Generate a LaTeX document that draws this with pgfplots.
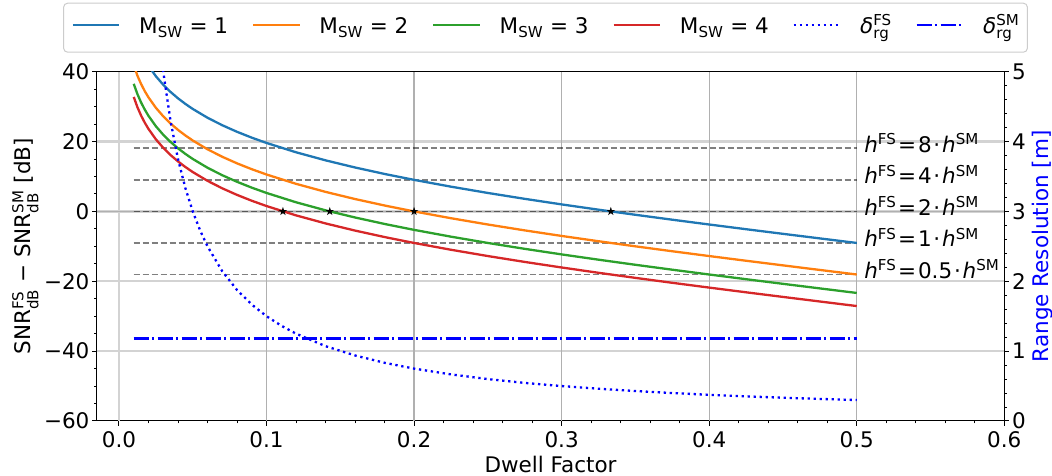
\documentclass[border=0pt]{standalone}
\usepackage{amsmath}
\usepackage{fontspec}
\setmainfont{DejaVu Sans}
\usepackage{pgfplots}
\usepackage{pgfplotstable}
\pgfplotsset{compat=1.18}
\definecolor{tabblue}{HTML}{1F77B4}
\definecolor{taborange}{HTML}{FF7F0E}
\definecolor{tabgreen}{HTML}{2CA02C}
\definecolor{tabred}{HTML}{D62728}
\definecolor{lgrid}{HTML}{D3D3D3}
\definecolor{dgrid}{HTML}{B0B0B0}
\definecolor{legframe}{HTML}{CCCCCC}
\pgfdeclareplotmark{fstar}{%
  \pgfpathmoveto{\pgfpointpolar{90}{\pgfplotmarksize}}%
  \pgfpathlineto{\pgfpointpolar{126}{0.382\pgfplotmarksize}}%
  \pgfpathlineto{\pgfpointpolar{162}{\pgfplotmarksize}}%
  \pgfpathlineto{\pgfpointpolar{198}{0.382\pgfplotmarksize}}%
  \pgfpathlineto{\pgfpointpolar{234}{\pgfplotmarksize}}%
  \pgfpathlineto{\pgfpointpolar{270}{0.382\pgfplotmarksize}}%
  \pgfpathlineto{\pgfpointpolar{306}{\pgfplotmarksize}}%
  \pgfpathlineto{\pgfpointpolar{342}{0.382\pgfplotmarksize}}%
  \pgfpathlineto{\pgfpointpolar{18}{\pgfplotmarksize}}%
  \pgfpathlineto{\pgfpointpolar{54}{0.382\pgfplotmarksize}}%
  \pgfpathclose
  \pgfusepathqfill}

\pgfplotstableread{
x      m1      m2      m3      m4
0.01   50.838  41.807  36.524  32.776
0.0125 47.898  38.867  33.584  29.836
0.015  45.489  36.458  31.175  27.427
0.0175 43.448  34.417  29.134  25.386
0.02   41.675  32.644  27.361  23.613
0.025  38.701  29.670  24.387  20.639
0.03   36.259  27.228  21.945  18.197
0.035  34.183  25.152  19.869  16.121
0.04   32.375  23.344  18.061  14.313
0.045  30.773  21.742  16.459  12.711
0.05   29.332  20.301  15.018  11.270
0.06   26.818  17.787  12.504   8.756
0.07   24.671  15.640  10.357   6.609
0.08   22.790  13.759   8.476   4.728
0.09   21.113  12.082   6.799   3.051
0.1    19.596  10.565   5.282   1.534
0.12   16.928   7.897   2.614  -1.134
0.14   14.620   5.589   0.306  -3.442
0.16   12.574   3.543  -1.740  -5.488
0.18   10.725   1.694  -3.589  -7.337
0.2     9.031   0.000  -5.283  -9.031
0.225   7.083  -1.948  -7.231 -10.979
0.25    5.283  -3.748  -9.031 -12.779
0.275   3.599  -5.432 -10.715 -14.463
0.3     2.008  -7.023 -12.306 -16.054
0.325   0.492  -8.539 -13.822 -17.570
0.35   -0.966  -9.997 -15.280 -19.028
0.375  -2.376 -11.407 -16.690 -20.438
0.4    -3.748 -12.779 -18.062 -21.810
0.425  -5.093 -14.124 -19.407 -23.155
0.45   -6.416 -15.447 -20.730 -24.478
0.475  -7.727 -16.758 -22.041 -25.789
0.5    -9.031 -18.062 -23.345 -27.093
}\snrtable

\pgfplotstableread{
x      d
0.0275 5.455
0.03   5.000
0.035  4.286
0.04   3.750
0.045  3.333
0.05   3.000
0.055  2.727
0.06   2.500
0.07   2.143
0.08   1.875
0.09   1.667
0.1    1.500
0.11   1.364
0.12   1.250
0.14   1.071
0.16   0.938
0.18   0.833
0.2    0.750
0.225  0.667
0.25   0.600
0.275  0.545
0.3    0.500
0.325  0.462
0.35   0.429
0.375  0.400
0.4    0.375
0.425  0.353
0.45   0.333
0.475  0.316
0.5    0.300
}\restable

\tikzset{
  dotsty/.style={blue, line width=2.3pt, dash pattern=on 2.3pt off 3.7pt},
  dashdotsty/.style={blue, line width=2.3pt, dash pattern=on 15pt off 3.2pt on 2.5pt off 3.3pt},
  hsty/.style={black, draw opacity=0.5, line width=1.7pt, dash pattern=on 6.3pt off 2.7pt}
}
\newcommand{\hann}[1]{\textit{h}$^{\text{FS}}$\hspace{1.8pt}=\hspace{1.8pt}#1\hspace{1.8pt}⋅\hspace{1.8pt}\textit{h}$^{\text{SM}}$}

\begin{document}
\fontsize{21.5pt}{25pt}\selectfont
\begin{tikzpicture}
\useasboundingbox (-96.7pt,-55pt) rectangle (955.3pt,421pt);
\begin{axis}[
  at={(0pt,0pt)}, anchor=south west,
  scale only axis, width=907.6pt, height=349.3pt,
  font=\fontsize{21.5pt}{25pt}\selectfont,
  xmin=-0.0151, xmax=0.6, ymin=-60, ymax=40,
  axis line style={line width=1pt},
  xtick={0,0.1,0.2,0.3,0.4,0.5,0.6},
  xticklabels={0.0,0.1,0.2,0.3,0.4,0.5,0.6},
  ytick={-60,-40,-20,0,20,40},
  yticklabels={−60,−40,−20,0,20,40},
  minor x tick num=4, minor y tick num=3,
  xtick pos=bottom, ytick pos=left,
  tick align=outside,
  major tick length=4.6pt, minor tick length=2.4pt,
  every tick/.style={black, line width=1pt},
  xticklabel style={inner sep=0pt, yshift=-6pt},
  yticklabel style={inner sep=0pt, xshift=-2.5pt},
  xlabel={Dwell Factor},
  xlabel style={at={(axis description cs:0.5,-0.1474)}, anchor=base, inner sep=0pt},
  ylabel={SNR$^{\text{FS}}_{\text{dB}}$ − SNR$^{\text{SM}}_{\text{dB}}$ [dB]},
  ylabel style={at={(axis description cs:-0.0724,0.5)}, anchor=base, inner sep=0pt},
  legend columns=6,
  legend cell align=left,
  legend image code/.code={\draw[#1] (0pt,2.5pt) -- (46.6pt,2.5pt);},
  legend style={at={(0.5,1)}, anchor=south, yshift=19pt, xshift=-5pt,
    draw=legframe, line width=1pt, rounded corners=4pt, fill=white,
    inner xsep=8pt, inner ysep=13.3pt,
    column sep=18.7pt,
    /tikz/every even column/.append style={column sep=23.8pt},
    nodes={inner sep=0pt, text height=17pt, text depth=5.4pt}},
]
% grid
\addplot[lgrid, line width=2.3pt, forget plot] coordinates {(0,-60) (0,40)};
\addplot[lgrid, line width=2.3pt, forget plot] coordinates {(-0.0151,20) (0.6,20)};
\addplot[lgrid, line width=2.3pt, forget plot] coordinates {(-0.0151,0) (0.6,0)};
\addplot[lgrid, line width=2.3pt, forget plot] coordinates {(-0.0151,-20) (0.6,-20)};
\addplot[lgrid, line width=2.3pt, forget plot] coordinates {(-0.0151,-40) (0.6,-40)};
\addplot[dgrid, line width=1.2pt, forget plot] coordinates {(0.1,-60) (0.1,40)};
\addplot[dgrid, line width=1.2pt, forget plot] coordinates {(0.2,-60) (0.2,40)};
\addplot[dgrid, line width=1.2pt, forget plot] coordinates {(0.3,-60) (0.3,40)};
\addplot[dgrid, line width=1.2pt, forget plot] coordinates {(0.4,-60) (0.4,40)};
\addplot[dgrid, line width=1.2pt, forget plot] coordinates {(0.5,-60) (0.5,40)};
\addplot[dgrid, line width=1.2pt, forget plot] coordinates {(-0.0151,0) (0.6,0)};
% reference levels
\addplot[hsty, forget plot] coordinates {(0.01,18.062) (0.5,18.062)};
\addplot[hsty, forget plot] coordinates {(0.01,9.031) (0.5,9.031)};
\addplot[hsty, forget plot] coordinates {(0.01,0) (0.5,0)};
\addplot[hsty, forget plot] coordinates {(0.01,-9.031) (0.5,-9.031)};
\addplot[hsty, forget plot] coordinates {(0.01,-18.062) (0.5,-18.062)};
% curves
\addplot[tabblue, line width=2.3pt] table[x=x, y=m1] {\snrtable};
\addlegendentry{M$_{\text{SW}}$ = 1}
\addplot[taborange, line width=2.3pt] table[x=x, y=m2] {\snrtable};
\addlegendentry{M$_{\text{SW}}$ = 2}
\addplot[tabgreen, line width=2.3pt] table[x=x, y=m3] {\snrtable};
\addlegendentry{M$_{\text{SW}}$ = 3}
\addplot[tabred, line width=2.3pt] table[x=x, y=m4] {\snrtable};
\addlegendentry{M$_{\text{SW}}$ = 4}
\addlegendimage{dotsty}
\addlegendentry{{\itshape δ}$^{\text{FS}}_{\text{rg}}$}
\addlegendimage{dashdotsty}
\addlegendentry{{\itshape δ}$^{\text{SM}}_{\text{rg}}$}
\addplot[only marks, mark=fstar, mark size=4.5pt, black, forget plot]
  coordinates {(0.11111,0) (0.14286,0) (0.2,0) (0.33333,0)};
% annotations
\node[anchor=base west, inner sep=0pt] at (axis cs:0.505,16.91) {\hann{8}};
\node[anchor=base west, inner sep=0pt] at (axis cs:0.505,7.88) {\hann{4}};
\node[anchor=base west, inner sep=0pt] at (axis cs:0.505,-1.15) {\hann{2}};
\node[anchor=base west, inner sep=0pt] at (axis cs:0.505,-10.18) {\hann{1}};
\node[anchor=base west, inner sep=0pt] at (axis cs:0.505,-19.21) {\hann{0.5}};
\end{axis}
\begin{axis}[
  at={(0pt,0pt)}, anchor=south west,
  scale only axis, width=907.6pt, height=349.3pt,
  font=\fontsize{21.5pt}{25pt}\selectfont,
  xmin=-0.0151, xmax=0.6, ymin=0, ymax=5,
  axis x line=none, axis y line*=right,
  axis line style={line width=1pt},
  ytick={0,1,2,3,4,5},
  yticklabels={0,1,2,3,4,5},
  minor y tick num=4,
  tick align=outside,
  major tick length=4.6pt, minor tick length=2.4pt,
  every tick/.style={black, line width=1pt},
  yticklabel style={inner sep=0pt, xshift=3pt},
  ylabel={Range Resolution [m]},
  ylabel style={at={(axis description cs:1.0485,0.5)}, anchor=base, inner sep=0pt, blue, rotate=0},
]
\addplot[dotsty] table[x=x, y=d] {\restable};
\addplot[dashdotsty] coordinates {(0.01,1.18) (0.5,1.18)};
\end{axis}
\end{tikzpicture}
\end{document}
